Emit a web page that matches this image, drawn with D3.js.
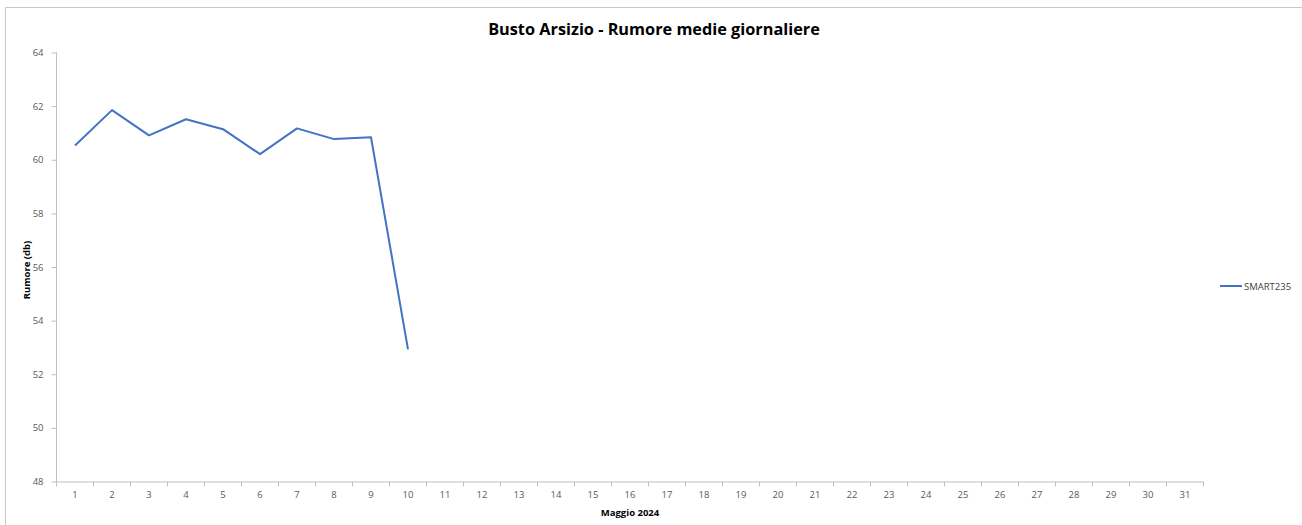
<!DOCTYPE html>
<html>
<head>
<meta charset="utf-8">
<script src="https://cdn.jsdelivr.net/npm/d3@7"></script>
<style>
body { margin: 0; background: #fff; }
svg text { font-family: "Open Sans", "Noto Sans", sans-serif; }
.axis path, .axis line { stroke: #c0c0c0; }
.axis text { fill: #595959; font-size: 9.5px; }
</style>
</head>
<body>
<div id="chart"></div>
<script>
// days of May 2024
var days = d3.range(1, 32).map(String);
var seriesName = "SMART235";
var values = [60.53, 61.85, 60.91, 61.51, 61.14, 60.21, 61.17, 60.77, 60.84, 52.93];
var yTicks = [48, 50, 52, 54, 56, 58, 60, 62, 64];

var width = 1302,
height = 525,
plotLeft = 56.5,
plotRight = 1203.5,
plotTop = 52.5,
plotBottom = 481.5;

var svg = d3.select("#chart")
.append("svg")
.attr("width", width)
.attr("height", height);

// chart frame
svg.append("rect")
.attr("x", 5.5)
.attr("y", 7.5)
.attr("width", width)
.attr("height", height)
.attr("fill", "none")
.attr("stroke", "#c8c8c8");

var xScale = d3.scaleBand()
.domain(days)
.range([plotLeft, plotRight]);

var yScale = d3.scaleLinear()
.domain([48, 64])
.range([plotBottom, plotTop]);

// x axis, ticks between categories
var xAxis = svg.append("g")
.attr("class", "axis")
.attr("transform", "translate(0," + plotBottom + ")")
.call(d3.axisBottom(xScale).tickSizeOuter(0).tickSize(0).tickPadding(10));

xAxis.selectAll(".sep")
.data(days.concat(["end"]))
.enter()
.append("line")
.attr("x1", function(d, i) { return plotLeft + i * xScale.step(); })
.attr("x2", function(d, i) { return plotLeft + i * xScale.step(); })
.attr("y1", 0)
.attr("y2", 5)
.attr("stroke", "#c0c0c0");

// y axis
var yAxis = svg.append("g")
.attr("class", "axis")
.attr("transform", "translate(" + plotLeft + ",0)")
.call(d3.axisLeft(yScale).tickValues(yTicks).tickSize(5).tickSizeOuter(0).tickPadding(8));

yAxis.select(".domain").remove();
yAxis.append("line")
.attr("y1", plotTop)
.attr("y2", plotBottom)
.attr("stroke", "#c0c0c0");

// line
var line = d3.line()
.x(function(d, i) { return xScale(days[i]) + xScale.bandwidth() / 2; })
.y(function(d) { return yScale(d); });

svg.append("path")
.attr("d", line(values))
.attr("fill", "none")
.attr("stroke", "#4472c4")
.attr("stroke-width", 2)
.attr("stroke-linejoin", "round");

// title
svg.append("text")
.attr("x", 654)
.attr("y", 35)
.attr("text-anchor", "middle")
.attr("font-weight", "bold")
.attr("font-size", "16.3px")
.attr("fill", "#000")
.text("Busto Arsizio - Rumore medie giornaliere");

// axis titles
svg.append("text")
.attr("transform", "translate(30,270) rotate(-90)")
.attr("text-anchor", "middle")
.attr("font-weight", "bold")
.attr("font-size", "9.5px")
.attr("fill", "#000")
.text("Rumore (db)");

svg.append("text")
.attr("x", (plotLeft + plotRight) / 2)
.attr("y", 516)
.attr("text-anchor", "middle")
.attr("font-weight", "bold")
.attr("font-size", "9.5px")
.attr("fill", "#000")
.text("Maggio 2024");

// legend
svg.append("line")
.attr("x1", 1220)
.attr("x2", 1242)
.attr("y1", 286)
.attr("y2", 286)
.attr("stroke", "#4472c4")
.attr("stroke-width", 2);

svg.append("text")
.attr("x", 1244)
.attr("y", 289.5)
.attr("font-size", "9.5px")
.attr("fill", "#404040")
.text(seriesName);
</script>
</body>
</html>
